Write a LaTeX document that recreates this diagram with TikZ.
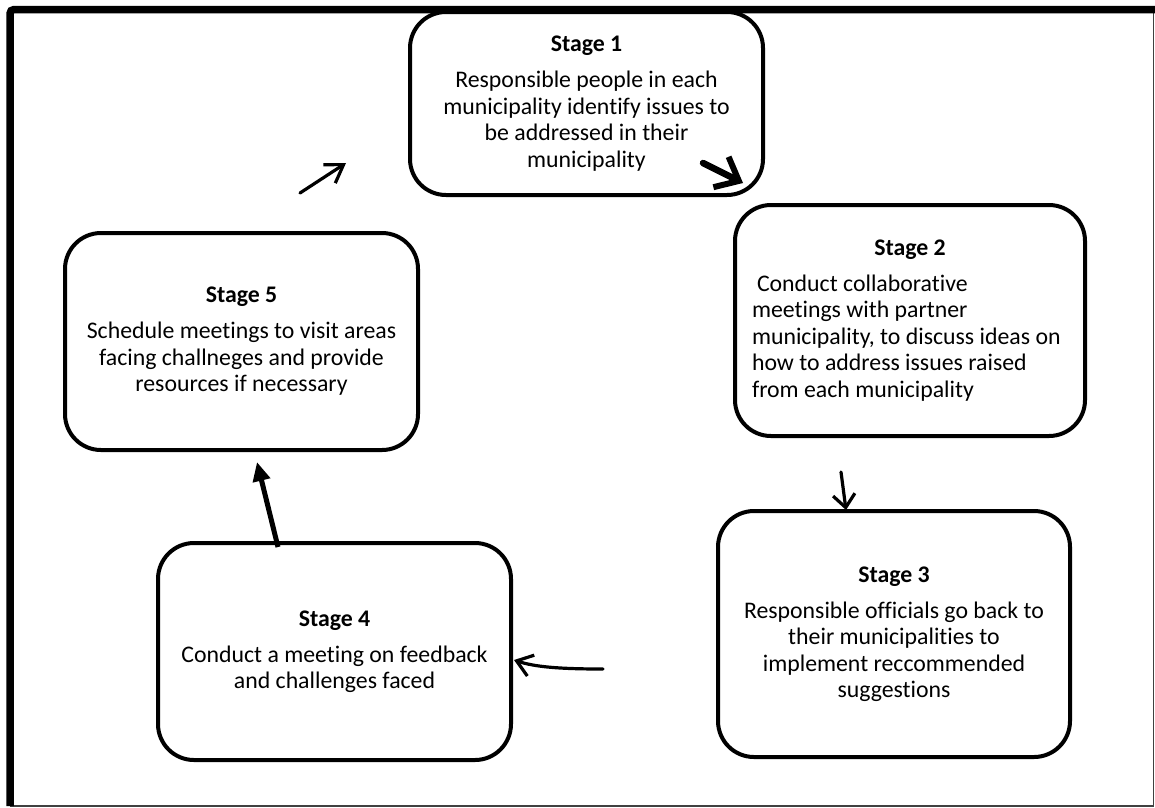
\documentclass[tikz,border=0pt]{standalone}
\usepackage{fontspec}
\setmainfont{Carlito}[Ligatures=NoCommon]
\usetikzlibrary{arrows.meta}
\begin{document}
\begin{tikzpicture}[x=1pt,y=-1pt,
  stagebox/.style={draw, line width=4pt, rounded corners=36pt, inner sep=0pt,
    align=center, font=\fontsize{23.8}{26.5}\selectfont},
  thinarrow/.style={line width=3.2pt, line cap=round},
  barbtip/.style={-{Straight Barb[length=#1, width=22pt, line width=3.2pt]}},
  framethick/.style={line width=7.5pt, rounded corners=4pt},
  framethin/.style={line width=1.2pt, black!75}
]
\useasboundingbox (0,0) rectangle (1155,807);

% outer frame
\draw[framethin] (10,806) -- (1153.5,806) -- (1153.5,9.5);
\draw[framethick] (10,806) -- (10,9.5) -- (1155,9.5);

% stages
\node[stagebox, minimum width=353pt, minimum height=183pt] (s1) at (586.5,103.5)
  {{\bfseries Stage 1}\\[9.5pt]
   Responsible people in each\\
   municipality identify issues to\\
   be addressed in their\\
   municipality};

\node[stagebox, minimum width=350pt, minimum height=231pt, align=flush left, text width=316pt] (s2) at (910,320.5)
  {\makebox[316pt][c]{\bfseries Stage 2}\\[9.5pt]
   \hspace*{5pt}Conduct collaborative\\
   meetings with partner\\
   municipality, to discuss ideas on\\
   how to address issues raised\\
   from each municipality};

\node[stagebox, minimum width=352pt, minimum height=246pt] (s3) at (894,634)
  {{\bfseries Stage 3}\\[9.5pt]
   Responsible officials go back to\\
   their municipalities to\\
   implement reccommended\\
   suggestions};

\node[stagebox, minimum width=353pt, minimum height=217pt] (s4) at (334.5,651.5)
  {{\bfseries Stage 4}\\[9.5pt]
   Conduct a meeting on feedback\\
   and challenges faced};

\node[stagebox, minimum width=353pt, minimum height=217pt] (s5) at (241.5,341.5)
  {{\bfseries Stage 5}\\[9.5pt]
   Schedule meetings to visit areas\\
   facing challneges and provide\\
   resources if necessary};

% arrow end points
\coordinate (a1s) at (300,193);
\coordinate (a1e) at (346,163);
\coordinate (a2s) at (703,163);
\coordinate (a2e) at (743,183);
\coordinate (a3s) at (841,472);
\coordinate (a3e) at (846,510);
\coordinate (a4s) at (603,669);
\coordinate (a4e) at (514,660);
\coordinate (a5s) at (278,547);
\coordinate (a5e) at (257,462);

% arrows
\draw[thinarrow, barbtip=17pt] (a1s) -- (a1e);
\draw[line width=6.5pt, line cap=round,
  -{Straight Barb[length=20pt, width=34pt, line width=6pt]}] (a2s) -- (a2e);
\draw[thinarrow, barbtip=13pt] (a3s) -- (a3e);
\draw[thinarrow, barbtip=15pt] (a4s) .. controls (560,669) and (535,667) .. (a4e);
\draw[line width=5pt, -{Triangle[length=19pt, width=17pt]}] (a5s) -- (a5e);
\end{tikzpicture}
\end{document}
